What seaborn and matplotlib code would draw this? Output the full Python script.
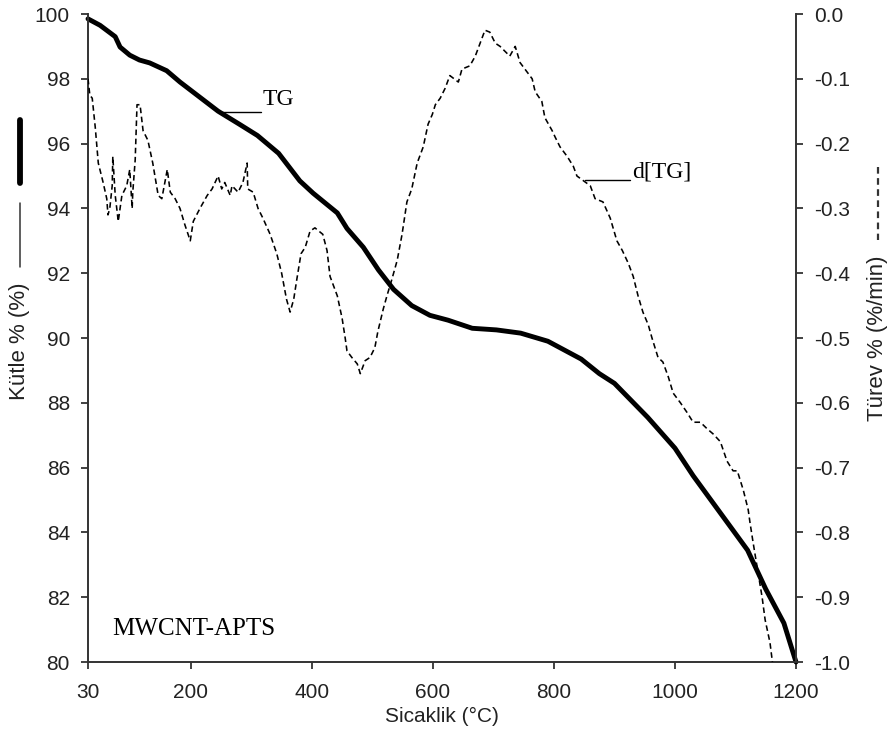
import matplotlib
matplotlib.use("Agg")
import matplotlib.pyplot as plt
from matplotlib.lines import Line2D
import seaborn as sns
import numpy as np
import pandas as pd

# ---- data ----
tg_temp = [30, 50, 75, 83, 99, 115, 132, 160, 182, 210, 245, 280, 310, 345,
           380, 402, 442, 458, 485, 510, 535, 565, 595, 625, 665, 705, 745,
           790, 845, 875, 900, 955, 1000, 1030, 1075, 1120, 1150, 1180, 1200]
tg_mass = [99.85, 99.65, 99.3, 98.98, 98.73, 98.58, 98.49, 98.25, 97.9, 97.5,
           97.0, 96.6, 96.25, 95.7, 94.85, 94.47, 93.86, 93.38, 92.8, 92.1,
           91.5, 91.0, 90.7, 90.55, 90.3, 90.25, 90.15, 89.9, 89.35, 88.9,
           88.6, 87.55, 86.6, 85.75, 84.6, 83.45, 82.25, 81.2, 80.0]

dtg_temp = [30, 33, 37, 42, 47, 55, 61, 63, 66, 70, 71, 75, 80, 86, 94, 99,
            103, 104, 108, 111, 116, 121, 129, 137, 146, 152, 161, 166, 174,
            182, 190, 199, 204, 215, 227, 235, 245, 251, 256, 265, 268, 278,
            286, 293, 294, 303, 311, 319, 331, 342, 350, 358, 364, 370, 375,
            382, 389, 397, 405, 418, 425, 430, 442, 450, 455, 458, 466, 475,
            480, 488, 496, 504, 509, 518, 524, 532, 541, 549, 557, 565, 574,
            584, 592, 599, 604, 612, 620, 628, 642, 648, 661, 670, 678, 686,
            694, 703, 711, 727, 736, 744, 756, 764, 769, 780, 785, 797, 802,
            810, 822, 832, 838, 860, 868, 881, 893, 904, 913, 923, 931, 939,
            947, 956, 962, 972, 980, 989, 997, 1009, 1020, 1030, 1042, 1053,
            1063, 1075, 1086, 1096, 1103, 1113, 1121, 1124, 1129, 1136, 1144,
            1149, 1157, 1161]
dtg_rate = [-0.10, -0.125, -0.13, -0.175, -0.23, -0.26, -0.285, -0.31, -0.30,
            -0.265, -0.22, -0.28, -0.32, -0.28, -0.265, -0.24, -0.30, -0.275,
            -0.225, -0.14, -0.14, -0.18, -0.195, -0.23, -0.28, -0.285, -0.24,
            -0.275, -0.285, -0.30, -0.325, -0.35, -0.32, -0.30, -0.28, -0.27,
            -0.25, -0.27, -0.26, -0.28, -0.265, -0.275, -0.26, -0.23, -0.27,
            -0.275, -0.30, -0.315, -0.34, -0.37, -0.40, -0.44, -0.46, -0.44,
            -0.41, -0.37, -0.36, -0.335, -0.33, -0.34, -0.365, -0.405, -0.435,
            -0.47, -0.50, -0.52, -0.53, -0.54, -0.555, -0.535, -0.53, -0.515,
            -0.49, -0.455, -0.435, -0.41, -0.38, -0.34, -0.29, -0.27, -0.23,
            -0.205, -0.17, -0.155, -0.14, -0.13, -0.115, -0.095, -0.105,
            -0.085, -0.08, -0.065, -0.045, -0.025, -0.028, -0.045, -0.05,
            -0.065, -0.05, -0.075, -0.09, -0.10, -0.12, -0.135, -0.16, -0.18,
            -0.19, -0.205, -0.22, -0.235, -0.25, -0.265, -0.285, -0.29, -0.315,
            -0.35, -0.365, -0.385, -0.405, -0.435, -0.46, -0.48, -0.50, -0.53,
            -0.537, -0.56, -0.585, -0.60, -0.615, -0.63, -0.63, -0.64, -0.648,
            -0.66, -0.69, -0.705, -0.705, -0.735, -0.765, -0.785, -0.815,
            -0.855, -0.90, -0.935, -0.97, -1.0]

x_ticks = [30, 200, 400, 600, 800, 1000, 1200]
left_ticks = [80, 82, 84, 86, 88, 90, 92, 94, 96, 98, 100]
right_ticks = [-1.0, -0.9, -0.8, -0.7, -0.6, -0.5, -0.4, -0.3, -0.2, -0.1, 0.0]

x_label = "Sicaklik (°C)"
left_label = "Kütle % (%)"
right_label = "Türev % (%/min)"
sample_name = "MWCNT-APTS"

# ---- style ----
sns.set_style("ticks")
plt.rcParams["font.family"] = ["Liberation Sans", "DejaVu Sans"]
plt.rcParams["axes.unicode_minus"] = False

TXT = "#222222"
SPINE = "#333333"
tick_fs = 15
serif = ["Liberation Serif", "DejaVu Serif"]

fig = plt.figure(figsize=(8.93, 7.42), dpi=100)
ax = fig.add_axes([88 / 893, 80 / 742, 708 / 893, 648 / 742])
ax2 = ax.twinx()

df_tg = pd.DataFrame({"T": tg_temp, "m": tg_mass})
df_dtg = pd.DataFrame({"T": dtg_temp, "d": dtg_rate})

sns.lineplot(data=df_tg, x="T", y="m", ax=ax, color="black", linewidth=3.5,
             sort=False, estimator=None, clip_on=False,
             solid_joinstyle="round", solid_capstyle="round")
sns.lineplot(data=df_dtg, x="T", y="d", ax=ax2, color="black", linewidth=1.15,
             linestyle=(0, (3.5, 2.2)), sort=False, estimator=None)

ax.set_xlim(30, 1200)
ax.set_ylim(80, 100)
ax2.set_ylim(-1.0, 0.0)
ax.set_xticks(x_ticks)
ax.set_xticklabels([str(v) for v in x_ticks])
ax.set_yticks(left_ticks)
ax.set_yticklabels([str(v) for v in left_ticks])
ax2.set_yticks(right_ticks)
ax2.set_yticklabels([f"{v:.1f}" for v in right_ticks])

for a in (ax, ax2):
    a.set_xlabel("")
    a.set_ylabel("")
    for s in a.spines.values():
        s.set_color(SPINE)
        s.set_linewidth(1.4)
    a.tick_params(direction="out", length=5, width=1.3, colors=SPINE,
                  labelcolor=TXT, labelsize=tick_fs, pad=8)
ax.spines["top"].set_visible(False)
ax.spines["right"].set_visible(False)
ax2.spines["top"].set_visible(False)
ax2.spines["left"].set_visible(False)
ax2.spines["bottom"].set_visible(False)
ax.tick_params(axis="x", pad=10)

ax.set_xlabel(x_label, fontsize=tick_fs, color=TXT, labelpad=4)

# y labels with line-style samples
fig.text(20 / 893, 1 - 341 / 742, left_label, rotation=90, ha="center",
         va="center", fontsize=16, color=TXT)
fig.add_artist(Line2D([20 / 893, 20 / 893], [1 - 203 / 742, 1 - 267 / 742],
                      transform=fig.transFigure, color="#333333", lw=1.1))
fig.add_artist(Line2D([20 / 893, 20 / 893], [1 - 120 / 742, 1 - 183 / 742],
                      transform=fig.transFigure, color="black", lw=4.2))
fig.text(878 / 893, 1 - 338 / 742, right_label, rotation=90, ha="center",
         va="center", fontsize=16, color=TXT)
fig.add_artist(Line2D([878 / 893, 878 / 893], [1 - 167 / 742, 1 - 240 / 742],
                      transform=fig.transFigure, color="#333333", lw=1.6,
                      linestyle=(0, (3, 2))))

# annotations
ax.plot([245, 316], [96.98, 96.98], color="black", lw=1.0)
ax.text(319, 97.35, "TG", fontsize=17, family=serif, ha="left", va="center",
        color="black")
ax2.plot([851, 926], [-0.256, -0.256], color="black", lw=1.0)
ax2.text(929, -0.244, "d[TG]", fontsize=17, family=serif, ha="left",
         va="center", color="black")
ax.text(0.034, 0.051, sample_name, transform=ax.transAxes, fontsize=18,
        family=serif, ha="left", va="center", color="black")

fig.savefig("out.png", dpi=100)
